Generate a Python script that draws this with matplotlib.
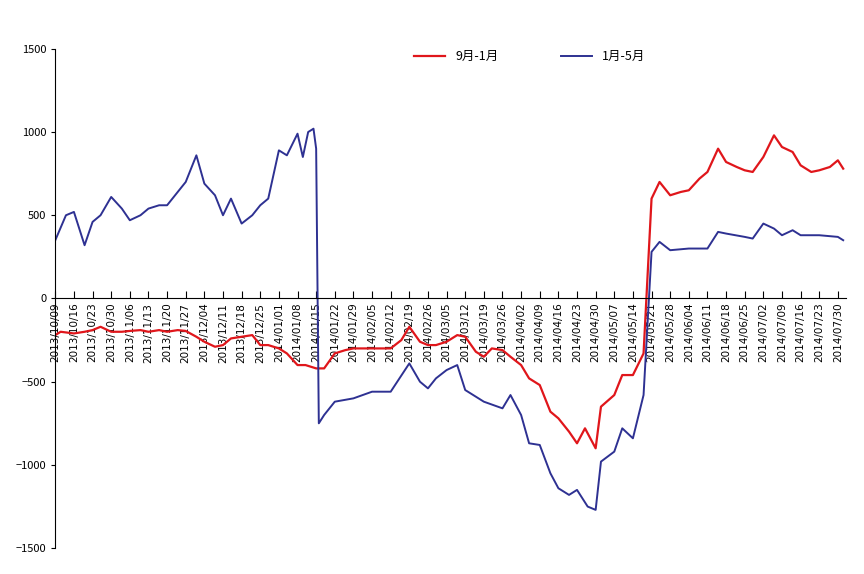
import matplotlib
matplotlib.use("Agg")
import matplotlib.pyplot as plt
import pandas as pd

plt.rcParams['font.family'] = ['Noto Sans CJK SC', 'DejaVu Sans']

red_dates = ["2013-10-09","2013-10-11","2013-10-16","2013-10-20","2013-10-23","2013-10-26","2013-10-30","2013-11-03","2013-11-06","2013-11-10","2013-11-13","2013-11-17","2013-11-20","2013-11-24","2013-11-27","2013-12-01","2013-12-04","2013-12-08","2013-12-11","2013-12-14","2013-12-18","2013-12-22","2013-12-25","2013-12-28","2014-01-01","2014-01-04","2014-01-08","2014-01-11","2014-01-15","2014-01-18","2014-01-22","2014-01-26","2014-01-29","2014-02-05","2014-02-12","2014-02-16","2014-02-19","2014-02-23","2014-02-26","2014-03-01","2014-03-05","2014-03-09","2014-03-12","2014-03-16","2014-03-19","2014-03-22","2014-03-26","2014-03-29","2014-04-02","2014-04-05","2014-04-09","2014-04-13","2014-04-16","2014-04-20","2014-04-23","2014-04-26","2014-04-30","2014-05-02","2014-05-07","2014-05-10","2014-05-14","2014-05-18","2014-05-21","2014-05-24","2014-05-28","2014-06-01","2014-06-04","2014-06-08","2014-06-11","2014-06-15","2014-06-18","2014-06-22","2014-06-25","2014-06-28","2014-07-02","2014-07-06","2014-07-09","2014-07-13","2014-07-16","2014-07-20","2014-07-23","2014-07-27","2014-07-30","2014-08-01"]
red_vals = [-220,-200,-210,-200,-190,-170,-200,-200,-195,-190,-200,-190,-200,-190,-195,-230,-260,-290,-280,-240,-230,-220,-280,-280,-300,-330,-400,-400,-420,-420,-330,-310,-300,-300,-300,-250,-170,-260,-280,-280,-260,-220,-230,-320,-350,-300,-310,-350,-400,-480,-520,-680,-720,-800,-870,-780,-900,-650,-580,-460,-460,-330,600,700,620,640,650,720,760,900,820,790,770,760,850,980,910,880,800,760,770,790,830,780]

blue_dates = ["2013-10-09","2013-10-13","2013-10-16","2013-10-20","2013-10-23","2013-10-26","2013-10-30","2013-11-03","2013-11-06","2013-11-10","2013-11-13","2013-11-17","2013-11-20","2013-11-24","2013-11-27","2013-12-01","2013-12-04","2013-12-08","2013-12-11","2013-12-14","2013-12-18","2013-12-22","2013-12-25","2013-12-28","2014-01-01","2014-01-04","2014-01-08","2014-01-10","2014-01-12","2014-01-14","2014-01-15","2014-01-16","2014-01-18","2014-01-22","2014-01-29","2014-02-05","2014-02-12","2014-02-19","2014-02-23","2014-02-26","2014-03-01","2014-03-05","2014-03-09","2014-03-12","2014-03-19","2014-03-26","2014-03-29","2014-04-02","2014-04-05","2014-04-09","2014-04-13","2014-04-16","2014-04-20","2014-04-23","2014-04-27","2014-04-30","2014-05-02","2014-05-07","2014-05-10","2014-05-14","2014-05-18","2014-05-21","2014-05-24","2014-05-28","2014-06-04","2014-06-11","2014-06-15","2014-06-18","2014-06-25","2014-06-28","2014-07-02","2014-07-06","2014-07-09","2014-07-13","2014-07-16","2014-07-23","2014-07-30","2014-08-01"]
blue_vals = [350,500,520,320,460,500,610,540,470,500,540,560,560,640,700,860,690,620,500,600,450,500,560,600,890,860,990,850,1000,1020,900,-750,-700,-620,-600,-560,-560,-390,-500,-540,-480,-430,-400,-550,-620,-660,-580,-700,-870,-880,-1050,-1140,-1180,-1150,-1250,-1270,-980,-920,-780,-840,-580,280,340,290,300,300,400,390,370,360,450,420,380,410,380,380,370,350]

fig = plt.figure(figsize=(8.64, 5.74), dpi=100)
ax = fig.add_axes([0.064, 0.045, 0.915, 0.87])
ax.plot(pd.to_datetime(red_dates), red_vals, color='#e0161b', lw=1.6, label='9月-1月')
ax.plot(pd.to_datetime(blue_dates), blue_vals, color='#2e3192', lw=1.4, label='1月-5月')
ax.set_ylim(-1500, 1500)
ax.set_yticks(range(-1500, 1501, 500))
ticks = pd.date_range("2013-10-09", "2014-07-30", freq="7D")
ax.set_xlim(pd.Timestamp("2013-10-09"), pd.Timestamp("2014-08-02"))
ax.spines['top'].set_visible(False)
ax.spines['right'].set_visible(False)
ax.spines['bottom'].set_position(('data', 0))
ax.tick_params(axis='x', direction='in', length=5, pad=3)
ax.tick_params(axis='y', labelsize=8, length=3)
ax.set_xticks(ticks)
ax.set_xticklabels([t.strftime("%Y/%m/%d") for t in ticks], fontsize=7.5, family='DejaVu Sans')
plt.setp(ax.get_xticklabels(), rotation=90, va='top', ha='center')
ax.legend(loc='upper center', bbox_to_anchor=(0.6, 1.02), ncol=2, frameon=False, fontsize=9, columnspacing=5, handlelength=2.5)
fig.savefig("out.png")
